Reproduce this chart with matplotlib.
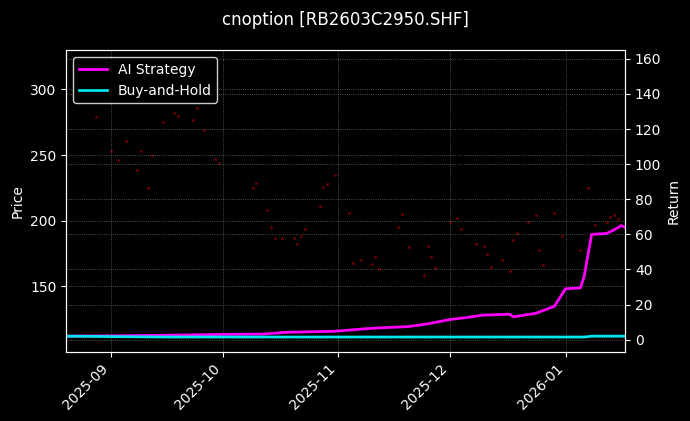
import matplotlib
matplotlib.use("Agg")
import matplotlib.pyplot as plt
import matplotlib.dates as mdates
import pandas as pd

price_dates = ["2025-08-28","2025-09-01","2025-09-03","2025-09-05","2025-09-08","2025-09-09","2025-09-11","2025-09-12",
 "2025-09-15","2025-09-18","2025-09-19","2025-09-23","2025-09-24","2025-09-26","2025-09-29","2025-09-30",
 "2025-10-09","2025-10-10","2025-10-13","2025-10-14","2025-10-15","2025-10-17","2025-10-20","2025-10-21",
 "2025-10-22","2025-10-23","2025-10-27","2025-10-28","2025-10-29","2025-10-31","2025-11-04","2025-11-05",
 "2025-11-07","2025-11-10","2025-11-11","2025-11-12","2025-11-17","2025-11-18","2025-11-20","2025-11-24",
 "2025-11-25","2025-11-26","2025-11-27","2025-12-01","2025-12-03","2025-12-04","2025-12-08","2025-12-10",
 "2025-12-11","2025-12-12","2025-12-15","2025-12-17","2025-12-18","2025-12-19","2025-12-22","2025-12-24",
 "2025-12-25","2025-12-26","2025-12-29","2025-12-31","2026-01-05","2026-01-07","2026-01-09","2026-01-12",
 "2026-01-13","2026-01-14","2026-01-15"]
price_values = [279,253,246,261,239,253,225,250,275,282,280,277,286,269,247,244,
 225,229,208,195,187,187,187,182,188,194,211,226,228,235,206,168,
 170,167,172,163,195,205,180,159,181,172,164,199,202,194,182,181,
 175,165,170,162,185,191,199,204,178,166,206,188,178,225,197,199,
 203,204,201]

ret_dates = ["2025-08-20","2025-09-15","2025-10-01","2025-10-12","2025-10-18","2025-10-31","2025-11-10",
 "2025-11-20","2025-11-25","2025-12-01","2025-12-05","2025-12-10","2025-12-17","2025-12-18","2025-12-24","2025-12-29",
 "2026-01-01","2026-01-05","2026-01-06","2026-01-08","2026-01-12","2026-01-14","2026-01-16","2026-01-17"]
ai_values = [2,2.5,3,3.2,4.2,4.8,6.5,7.5,9,11.5,12.5,14,14.5,13,15,19,
 29,29.5,36,60,60.5,62.5,65,64]
bh_values = [2,1.5,1.5,1.5,1.5,1.5,1.5,1.5,1.5,1.5,1.5,1.5,1.5,1.5,1.5,1.5,
 1.5,1.5,1.5,2,2,2,2,2]

plt.rcParams['font.family'] = ['DejaVu Sans']
fig = plt.figure(figsize=(6.9, 4.21), dpi=100, facecolor='black')
ax = fig.add_axes([0.096, 0.164, 0.81, 0.717], facecolor='black')
ax2 = ax.twinx()

ax.scatter(pd.to_datetime(price_dates), price_values, s=1.5, color='#8b0000', alpha=0.6, zorder=1)
ax2.plot(pd.to_datetime(ret_dates), ai_values, color='#ff00ff', lw=2, label='AI Strategy')
ax2.plot(pd.to_datetime(ret_dates), bh_values, color='#00e5ee', lw=2, label='Buy-and-Hold')

ax.set_xlim(pd.Timestamp("2025-08-20"), pd.Timestamp("2026-01-17"))
ax.set_ylim(100, 330)
ax2.set_ylim(-7, 165)
ax.set_yticks([150, 200, 250, 300])
ax2.set_yticks(range(0, 161, 20))
ax.xaxis.set_major_locator(mdates.MonthLocator())
ax.xaxis.set_major_formatter(mdates.DateFormatter('%Y-%m'))
for lbl in ax.get_xticklabels():
    lbl.set_rotation(45); lbl.set_ha('right')

ax.grid(True, color='gray', ls=':', lw=0.6, alpha=0.8)
ax2.grid(True, color='gray', ls=':', lw=0.6, alpha=0.8)
for a in (ax, ax2):
    a.tick_params(colors='white', labelsize=10)
    for s in a.spines.values():
        s.set_color('white')
ax.set_ylabel('Price', color='white')
ax2.set_ylabel('Return', color='white')
fig.suptitle('cnoption [RB2603C2950.SHF]', color='white', fontsize=12, y=0.975)
leg = ax2.legend(loc='upper left', facecolor='black', edgecolor='white', labelcolor='white', fontsize=10)
fig.savefig('out.png', dpi=100, facecolor='black')
